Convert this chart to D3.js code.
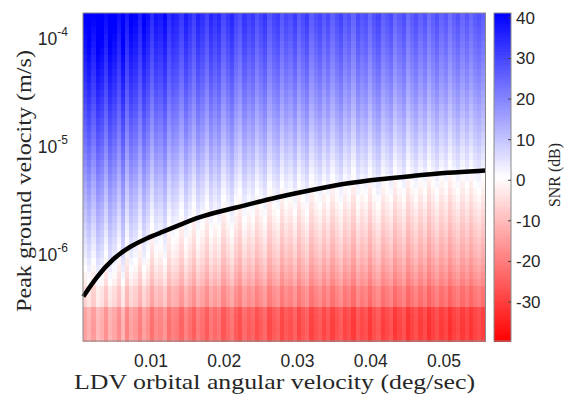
<!DOCTYPE html>
<html>
<head>
<meta charset="utf-8">
<script src="https://cdn.jsdelivr.net/npm/d3@7"></script>
<style>
  body { margin: 0; background: #fff; }
  svg { display: block; }
</style>
</head>
<body>
<svg id="chart" width="565" height="395"></svg>
<script>
// SNR per row (dB, bottom to top) seen at the right-hand columns
const rowSnr = [
  -28.5, -29, -28.8, -28.4, -28, -21, -20.5, -20,
  -17, -15.5, -14, -12.5, -11, -10, -8.8, -7.6, -6.5, -5.3, -4.2, -3, -1.8, -0.6,
  0.6, 2, 3.3, 4.6, 5.9, 7.1, 8.4, 9.6, 10.8, 12, 13.2, 14.3, 15.5, 16.6, 17.7,
  18.8, 19.8, 20.8, 21.8, 22.8, 23.7, 24.6, 25.5, 26.3, 27.1
];
// noise floor per orbital-velocity column (dB, relative), left to right
const noiseFloor = [
  -14.6, -17.3, -13.6, -18.5, -16.7, -12.2, -17.6, -15.4, -11.4, -17.7,
  -10.0, -15.1, -13.4, -9.2, -14.8, -11.8, -7.0, -11.4, -10.1, -13.0,
  -6.8, -9.7, -8.6, -5.1, -9.9, -7.0, -4.1, -8.9, -6.8, -3.4,
  -8.1, -5.8, -7.8, -2.7, -5.6, -8.0, -3.6, -1.6, -6.2, -3.7,
  -5.4, -1.4, -3.8, -5.9, -0.7, -3.5, -5.0, -0.2, -3.3, -1.8,
  -4.7, 0.0, -2.6, -4.7, 0.5, -2.0, -3.7, -0.2, -2.9, 0.9,
  -1.9, -3.8, 0.2, -1.7, 1.8, -2.9, -0.6, -2.1, 1.9, -1.5,
  -3.4, 1.1, -0.7, -2.5, 2.2, -0.2, -2.2, 2.8, 0.2, -1.9,
  1.3, -1.1, 3.1, 0.5, -1.6, 1.6, -0.5, 3.3, 0.7, -1.2,
  2.0, -0.4, 2.5, 0.0, -1.2, 1.0
];
// threshold curve
const curveOmega = [0.000758, 0.00259, 0.00485, 0.00713, 0.00941, 0.01164, 0.01396, 0.01669, 0.01942,
  0.02215, 0.02488, 0.02761, 0.03212, 0.03672, 0.04126, 0.04577, 0.05037, 0.0556];
const curveVel = [4.03e-7, 6.17e-7, 9.12e-7, 1.17e-6, 1.40e-6, 1.60e-6, 1.86e-6, 2.21e-6, 2.47e-6,
  2.74e-6, 3.05e-6, 3.40e-6, 3.92e-6, 4.52e-6, 4.92e-6, 5.27e-6, 5.66e-6, 5.90e-6];

const xTicks = [0.01, 0.02, 0.03, 0.04, 0.05];
const yTicks = [-6, -5, -4];
const cTicks = [-30, -20, -10, 0, 10, 20, 30, 40];

const xDomain = [0.000717, 0.05567];
const yDomain = [1.56e-7, 1.70e-4];
const cDomain = [-39.6, 41.2];

const svg = d3.select("#chart");
const mLeft = 83, mRight = 485.5, mTop = 13, mBottom = 341;

const x = d3.scaleLinear().domain(xDomain).range([mLeft, mRight]);
const y = d3.scaleLog().domain(yDomain).range([mBottom, mTop]);
const color = d3.scaleLinear()
  .domain([cDomain[0], (cDomain[0] + cDomain[1]) / 2, cDomain[1]])
  .range(["#ff0000", "#ffffff", "#0000ff"])
  .clamp(true);

// cell edges
const nCols = noiseFloor.length, nRows = rowSnr.length;
const colW = (xDomain[1] - xDomain[0]) / nCols;
const lyMin = Math.log10(yDomain[0]), lyMax = Math.log10(yDomain[1]);
const rowH = (lyMax - lyMin) / nRows;

const cells = [];
rowSnr.forEach((s, i) => {
  noiseFloor.forEach((n, j) => {
    cells.push({i, j, v: s - n});
  });
});

const heat = svg.append("g").attr("shape-rendering", "crispEdges");
heat.selectAll("rect")
  .data(cells)
  .enter()
  .append("rect")
  .attr("x", d => x(xDomain[0] + d.j * colW))
  .attr("width", d => x(xDomain[0] + (d.j + 1) * colW) - x(xDomain[0] + d.j * colW) + 0.5)
  .attr("y", d => y(Math.pow(10, lyMin + (d.i + 1) * rowH)))
  .attr("height", d => y(Math.pow(10, lyMin + d.i * rowH)) - y(Math.pow(10, lyMin + (d.i + 1) * rowH)) + 0.5)
  .attr("fill", d => color(d.v));

// threshold curve
const line = d3.line()
  .x((d, i) => x(curveOmega[i]))
  .y(d => y(d))
  .curve(d3.curveBasis);
svg.append("path")
  .datum(curveVel)
  .attr("d", line)
  .attr("fill", "none")
  .attr("stroke", "#000")
  .attr("stroke-width", 4.5)
  .attr("stroke-linecap", "butt");

// axes box
svg.append("rect")
  .attr("x", mLeft).attr("y", mTop)
  .attr("width", mRight - mLeft).attr("height", mBottom - mTop)
  .attr("fill", "none").attr("stroke", "#8a8a8a").attr("stroke-width", 1);

const sans = "'Liberation Sans', Arial, Helvetica, sans-serif";
const serif = "'Liberation Serif', 'Times New Roman', serif";

// x ticks
svg.append("g").selectAll("text")
  .data(xTicks)
  .enter()
  .append("text")
  .attr("x", d => x(d))
  .attr("y", 367)
  .attr("text-anchor", "middle")
  .style("font-family", sans)
  .style("font-size", "17.5px")
  .attr("fill", "#262626")
  .text(d => d3.format(".2f")(d));

// y ticks
const yt = svg.append("g").selectAll("text")
  .data(yTicks)
  .enter()
  .append("text")
  .attr("x", 68)
  .attr("y", d => y(Math.pow(10, d)) + 7)
  .attr("text-anchor", "end")
  .style("font-family", sans)
  .style("font-size", "17.5px")
  .attr("fill", "#262626");
yt.append("tspan").text("10");
yt.append("tspan").attr("dy", -9).style("font-size", "12px").text(d => String(d));

// axis labels
svg.append("text")
  .attr("x", 274.5)
  .attr("y", 389)
  .attr("text-anchor", "middle")
  .attr("textLength", 401)
  .attr("lengthAdjust", "spacingAndGlyphs")
  .style("font-family", serif)
  .style("font-size", "21px")
  .attr("fill", "#262626")
  .text("LDV orbital angular velocity (deg/sec)");

svg.append("text")
  .attr("transform", "translate(31,181) rotate(-90)")
  .attr("text-anchor", "middle")
  .attr("textLength", 262)
  .attr("lengthAdjust", "spacingAndGlyphs")
  .style("font-family", serif)
  .style("font-size", "21px")
  .attr("fill", "#262626")
  .text("Peak ground velocity (m/s)");

// colorbar
const cbL = 494, cbR = 511;
const c = d3.scaleLinear().domain(cDomain).range([mBottom, mTop]);
const steps = d3.range(0, 128);
const stepH = (mBottom - mTop) / steps.length;
const cb = svg.append("g").attr("shape-rendering", "crispEdges");
cb.selectAll("rect")
  .data(steps)
  .enter()
  .append("rect")
  .attr("x", cbL)
  .attr("width", cbR - cbL)
  .attr("y", d => c(cDomain[0] + (d + 1) * (cDomain[1] - cDomain[0]) / steps.length))
  .attr("height", stepH + 0.6)
  .attr("fill", d => color(cDomain[0] + (d + 0.5) * (cDomain[1] - cDomain[0]) / steps.length));
svg.append("rect")
  .attr("x", cbL).attr("y", mTop)
  .attr("width", cbR - cbL).attr("height", mBottom - mTop)
  .attr("fill", "none").attr("stroke", "#8a8a8a").attr("stroke-width", 1);

svg.append("g").selectAll("line")
  .data(cTicks)
  .enter()
  .append("line")
  .attr("x1", cbR - 3).attr("x2", cbR)
  .attr("y1", d => c(d)).attr("y2", d => c(d))
  .attr("stroke", "#444").attr("stroke-width", 1);

svg.append("g").selectAll("text")
  .data(cTicks)
  .enter()
  .append("text")
  .attr("x", 516)
  .attr("y", d => c(d) + 6)
  .style("font-family", sans)
  .style("font-size", "17px")
  .attr("fill", "#262626")
  .text(d => d < 0 ? "-" + Math.abs(d) : d);

svg.append("text")
  .attr("transform", "translate(560,175) rotate(-90)")
  .attr("text-anchor", "middle")
  .attr("textLength", 64)
  .attr("lengthAdjust", "spacingAndGlyphs")
  .style("font-family", serif)
  .style("font-size", "17px")
  .attr("fill", "#262626")
  .text("SNR (dB)");
</script>
</body>
</html>
